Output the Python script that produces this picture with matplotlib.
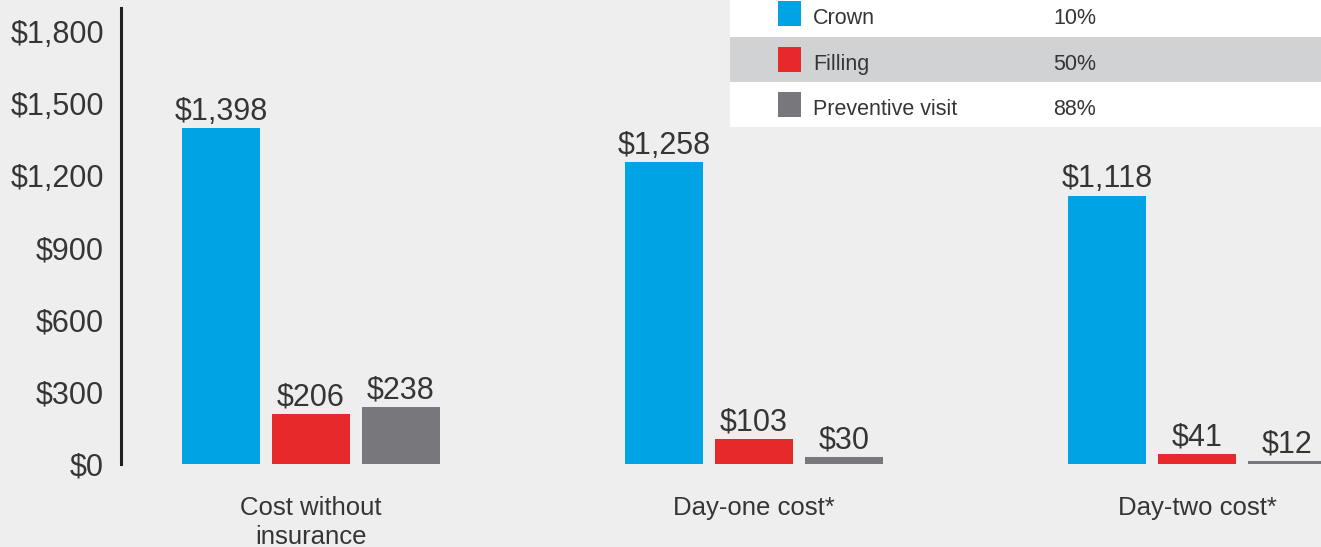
import matplotlib.pyplot as plt
import matplotlib.patches as mpatches
import numpy as np

plt.rcParams['font.family'] = ['Liberation Sans', 'DejaVu Sans']

categories = ['Cost without\ninsurance', 'Day-one cost*', 'Day-two cost*']
series = ['Crown', 'Filling', 'Preventive visit']
crown = [1398, 1258, 1118]
filling = [206, 103, 41]
preventive = [238, 30, 12]
shares = ['10%', '50%', '88%']
yticks = [0, 300, 600, 900, 1200, 1500, 1800]

colors = ['#00a4e4', '#e8292c', '#78787c']
bg = '#eeeeee'
txt = '#353535'

W, H = 1321, 547
fig = plt.figure(figsize=(W / 100, H / 100), dpi=100, facecolor=bg)
ax = fig.add_axes([120.5 / W, 83.3 / H, 1 - 120.5 / W, (463.7 - 8) / H])
ax.set_facecolor(bg)

x = np.arange(len(categories))
step = 90 / 443
width = 78 / 443
for i, (vals, col) in enumerate(zip([crown, filling, preventive], colors)):
    bars = ax.bar(x + (i - 1) * step, vals, width, color=col, label=series[i])
    ax.bar_label(bars, labels=[f'${v:,}' for v in vals], padding=1,
                 fontsize=22, color=txt)

ax.set_xlim(-0.43, 2.28)
ax.set_ylim(0, 1900)
ax.set_yticks(yticks)
ax.set_yticklabels([f'${v:,}' for v in yticks], fontsize=22, color=txt)
ax.set_xticks(x)
ax.set_xticklabels(categories, fontsize=18.5, color=txt, linespacing=1.3)
ax.tick_params(axis='y', length=0, pad=12)
ax.tick_params(axis='x', length=0, pad=23)
for s in ['top', 'right', 'bottom']:
    ax.spines[s].set_visible(False)
ax.spines['left'].set_linewidth(2.2)
ax.spines['left'].set_color('#231f20')

# legend table in the top right corner
def px(xp, yp):
    return xp / W, 1 - yp / H

row_top = [-8, 37, 82]
row_mid = [14, 60, 105]
for i, name in enumerate(series):
    fc = '#d1d2d4' if i == 1 else 'white'
    fig.patches.append(mpatches.Rectangle(px(730, row_top[i] + 45), (W - 730) / W, 45 / H,
                                          transform=fig.transFigure, facecolor=fc,
                                          edgecolor='none', zorder=3))
    yc = row_mid[i]
    fig.patches.append(mpatches.Rectangle(px(778, yc + 12), 23 / W, 25 / H,
                                          transform=fig.transFigure, facecolor=colors[i],
                                          edgecolor='none', zorder=4))
    fig.text(*px(813, yc + 2), name, fontsize=15.5, color=txt,
             va='center_baseline', zorder=5)
    fig.text(*px(1053, yc + 2), shares[i], fontsize=15.5, color=txt,
             va='center_baseline', zorder=5)

fig.savefig('out.png', dpi=100, facecolor=bg)
